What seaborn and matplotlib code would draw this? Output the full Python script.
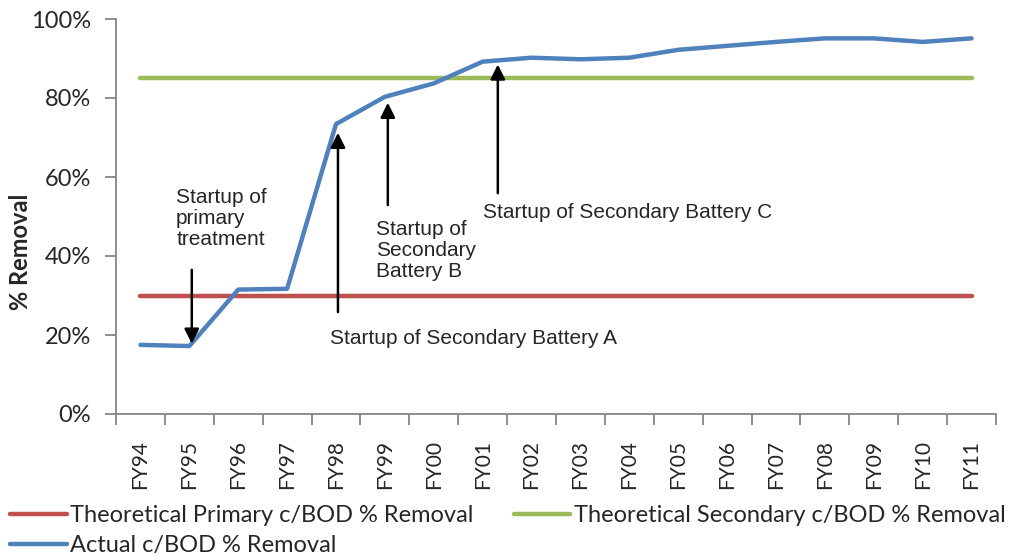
import matplotlib

matplotlib.use("Agg")
import matplotlib.pyplot as plt
import numpy as np
import pandas as pd
import seaborn as sns
from matplotlib.ticker import FixedLocator, PercentFormatter

YEARS = ["FY94", "FY95", "FY96", "FY97", "FY98", "FY99", "FY00", "FY01", "FY02",
         "FY03", "FY04", "FY05", "FY06", "FY07", "FY08", "FY09", "FY10", "FY11"]
ACTUAL = [0.175, 0.172, 0.315, 0.317, 0.734, 0.803, 0.837, 0.892, 0.902,
          0.898, 0.902, 0.922, 0.932, 0.942, 0.951, 0.951, 0.942, 0.951]
PRIMARY = [0.30] * len(YEARS)
SECONDARY = [0.85] * len(YEARS)

SERIES_LABELS = {
    "primary": "Theoretical Primary c/BOD % Removal",
    "secondary": "Theoretical Secondary c/BOD % Removal",
    "actual": "Actual c/BOD % Removal",
}
COLORS = {"primary": "#C0504D", "secondary": "#9BBB59", "actual": "#4F81BD"}

# text, position (x in category units, y as fraction)
NOTES = [
    ("Startup of\nprimary\ntreatment", (0.73, 0.496)),
    ("Startup of\nSecondary\nBattery B", (4.82, 0.413)),
    ("Startup of Secondary Battery C", (7.0, 0.511)),
    ("Startup of Secondary Battery A", (3.88, 0.19)),
]
# arrow start, arrow tip
ARROWS = [
    ((1.05, 0.365), (1.05, 0.178)),
    ((4.04, 0.258), (4.04, 0.712)),
    ((5.06, 0.529), (5.06, 0.788)),
    ((7.31, 0.559), (7.31, 0.885)),
]

sns.set_theme(style="white")
plt.rcParams["font.family"] = ["Lato", "DejaVu Sans"]

frame = pd.DataFrame({
    "pos": np.arange(len(YEARS)),
    "primary": PRIMARY,
    "secondary": SECONDARY,
    "actual": ACTUAL,
})

fig = plt.figure(figsize=(10.21, 5.56), dpi=100)
ax = fig.add_axes([116 / 1021, 1 - 414 / 556, 880 / 1021, 395 / 556])

for key in ["primary", "secondary", "actual"]:
    sns.lineplot(data=frame, x="pos", y=key, color=COLORS[key], linewidth=3.2,
                 label=SERIES_LABELS[key], legend=False, ax=ax,
                 solid_capstyle="round")

ax.set_xlim(-0.5, len(YEARS) - 0.5)
ax.set_ylim(0, 1)
ax.yaxis.set_major_locator(FixedLocator(np.arange(0, 1.01, 0.2)))
ax.yaxis.set_major_formatter(PercentFormatter(1.0, decimals=0))
ax.set_xticks(np.arange(len(YEARS)))
ax.set_xticklabels(YEARS, rotation=90)
ax.set_xticks(np.arange(-0.5, len(YEARS)), minor=True)
ax.tick_params(axis="x", which="major", length=0, pad=19, labelsize=15)
ax.tick_params(axis="x", which="minor", length=8, width=1.3, color="#868686",
               direction="out", bottom=True)
ax.tick_params(axis="y", length=8, width=1.3, color="#868686", direction="out",
               left=True, pad=10, labelsize=17)
for side in ["top", "right"]:
    ax.spines[side].set_visible(False)
for side in ["left", "bottom"]:
    ax.spines[side].set_color("#868686")
    ax.spines[side].set_linewidth(1.3)

ax.set_xlabel("")
ax.set_ylabel("% Removal", fontsize=17, fontweight="bold")
ax.yaxis.set_label_coords(-0.095, 0.41)

for text, (tx, ty) in NOTES:
    ax.text(tx, ty, text, ha="left", va="center", fontsize=15,
            family=["Liberation Sans", "DejaVu Sans"], linespacing=1.13)
for start, tip in ARROWS:
    ax.annotate("", xy=tip, xytext=start,
                arrowprops=dict(arrowstyle="-|>", color="black", lw=1.8,
                                mutation_scale=22, shrinkA=0, shrinkB=0))

handles, labels = ax.get_legend_handles_labels()
order = [0, 2, 1]
fig.legend([handles[i] for i in order], [labels[i] for i in order],
           loc="upper left", bbox_to_anchor=(10 / 1021, 1 - 505 / 556),
           ncol=2, frameon=False, fontsize=17, handlelength=2.4,
           handletextpad=0.15, columnspacing=1.7, labelspacing=0.4,
           borderpad=0, borderaxespad=0)

fig.savefig("out.png", dpi=100)
